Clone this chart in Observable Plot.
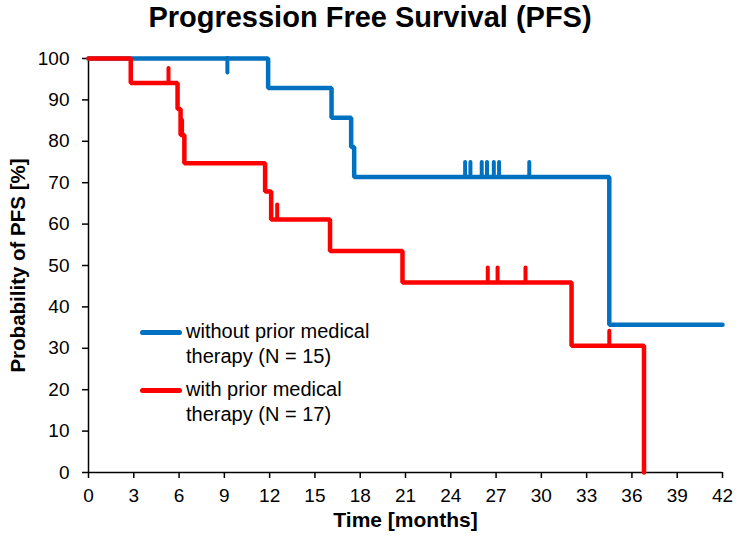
<!DOCTYPE html>
<html><head><meta charset="utf-8">
<script src="https://cdn.jsdelivr.net/npm/d3@7"></script>
<script src="https://cdn.jsdelivr.net/npm/@observablehq/plot@0.6"></script>
<style>
body{margin:0;background:#fff;font-family:"Liberation Sans",Arial,sans-serif;color:#000;}
#wrap{position:relative;width:738px;height:542px;overflow:hidden;}
#title{height:44px;text-align:center;font-weight:bold;font-size:29px;line-height:34px;padding-left:2px;}
.leg{position:absolute;left:140px;font-size:20px;line-height:24.5px;}
.leg .sw{position:absolute;left:0;width:42px;height:5px;border-radius:3px;}
.leg .tx{position:absolute;left:46px;white-space:nowrap;}
</style></head>
<body>
<div id="wrap">
<div id="title">Progression Free Survival (PFS)</div>
<div id="chart"></div>
<div class="leg" style="top:319px"><div class="sw" style="background:#0070C0;top:11px"></div><div class="tx" style="top:0">without prior medical<br>therapy (N = 15)</div></div>
<div class="leg" style="top:377px"><div class="sw" style="background:#FF0000;top:11px"></div><div class="tx" style="top:0">with prior medical<br>therapy (N = 17)</div></div>
</div>
<script>
// Kaplan-Meier curves (time in months, survival in %)
const blueTimes = [0, 11.9, 16.1, 17.4, 17.6, 34.5, 42];
const blueSurv  = [100, 92.9, 85.7, 78.6, 71.4, 35.7, 35.7];
const blueCensor = [9.2, 24.95, 25.3, 26.05, 26.4, 26.85, 27.2, 29.2];

const redTimes = [0, 2.8, 5.9, 6.1, 6.35, 11.7, 12.1, 16.0, 20.8, 32.0, 36.8];
const redSurv  = [100, 94.1, 87.8, 81.5, 74.7, 67.9, 61.1, 53.5, 45.9, 30.6, 0];
const redCensor = [5.3, 6.2, 12.5, 26.45, 27.1, 28.95, 34.5];

const xTicks = [0, 3, 6, 9, 12, 15, 18, 21, 24, 27, 30, 33, 36, 39, 42];
const yTicks = [0, 10, 20, 30, 40, 50, 60, 70, 80, 90, 100];

const BLUE = "#0070C0", RED = "#FF0000";
const TICK = 3.5;

function curve(times, surv) { return times.map((t, i) => ({t, s: surv[i]})); }
function levelAt(times, surv, t) {
  let v = surv[0];
  for (let i = 0; i < times.length; i++) if (times[i] <= t) v = surv[i];
  return v;
}
function censor(times, surv, cens) {
  return cens.map(t => {
    const s = levelAt(times, surv, t);
    return {t, y1: s, y2: s >= 100 ? s - TICK : s + TICK};
  });
}

const blue = curve(blueTimes, blueSurv);
const red = curve(redTimes, redSurv);

const chart = Plot.plot({
  width: 738,
  height: 498,
  marginTop: 14,
  marginBottom: 70,
  marginLeft: 88,
  marginRight: 16,
  style: {fontFamily: "'Liberation Sans', Arial, sans-serif", color: "#000", background: "#fff", overflow: "visible"},
  x: {domain: [0, 42]},
  y: {domain: [0, 100]},
  marks: [
    Plot.axisX({ticks: xTicks, tickSize: 6, tickPadding: 10, fontSize: 19, label: null, strokeWidth: 1.5}),
    Plot.axisY({ticks: yTicks, tickSize: 6, tickPadding: 13, fontSize: 19, label: null, strokeWidth: 1.5}),
    Plot.ruleY([0], {stroke: "#000", strokeWidth: 1.5}),
    Plot.ruleX([0], {stroke: "#000", strokeWidth: 1.5}),
    Plot.line(blue, {x: "t", y: "s", curve: "step-after", stroke: BLUE, strokeWidth: 4.5, strokeLinejoin: "miter"}),
    Plot.ruleX(censor(blueTimes, blueSurv, blueCensor), {x: "t", y1: "y1", y2: "y2", stroke: BLUE, strokeWidth: 4, strokeLinecap: "round"}),
    Plot.line(red, {x: "t", y: "s", curve: "step-after", stroke: RED, strokeWidth: 4.5, strokeLinejoin: "miter"}),
    Plot.ruleX(censor(redTimes, redSurv, redCensor), {x: "t", y1: "y1", y2: "y2", stroke: RED, strokeWidth: 4, strokeLinecap: "round"}),
    Plot.text(["Time [months]"], {frameAnchor: "bottom", dy: 54, fontSize: 21, fontWeight: "bold", fill: "#000"}),
    Plot.text(["Probability of PFS [%]"], {frameAnchor: "left", textAnchor: "middle", dx: -70, rotate: -90, fontSize: 20.5, fontWeight: "bold", fill: "#000"})
  ]
});
document.getElementById("chart").appendChild(chart);
</script>
</body></html>
